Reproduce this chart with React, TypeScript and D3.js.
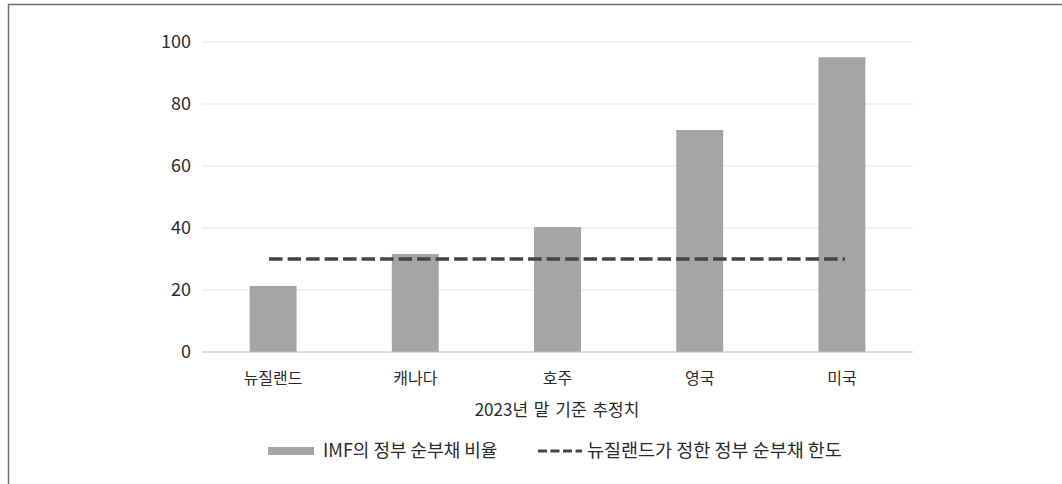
import React, { useEffect, useRef } from "react";
import * as d3 from "d3";

const categories = ["뉴질랜드", "캐나다", "호주", "영국", "미국"];
const debtRatio = [21.3, 31.6, 40.3, 71.6, 95.1];
const nzLimit = [30, 30, 30, 30, 30];
const yTicks = [0, 20, 40, 60, 80, 100];
const xTitle = "2023년 말 기준 추정치";
const barLabel = "IMF의 정부 순부채 비율";
const lineLabel = "뉴질랜드가 정한 정부 순부채 한도";

export default function App() {
  const ref = useRef<SVGSVGElement>(null);

  useEffect(() => {
    if (!ref.current) return;
    const svg = d3.select(ref.current);
    svg.selectAll("*").remove();
    const font = "'Noto Sans CJK KR', 'Noto Sans', sans-serif";

    // frame (only top and left edges visible)
    svg
      .append("rect")
      .attr("x", 8.5)
      .attr("y", 4.5)
      .attr("width", 1100)
      .attr("height", 520)
      .attr("fill", "white")
      .attr("stroke", "#6f6f6f")
      .attr("stroke-width", 1.5);

    const left = 202,
      right = 913,
      top = 42,
      bottom = 352;

    const x = d3.scaleBand().domain(categories).range([left, right]).paddingInner(0.67).paddingOuter(0.335);
    const y = d3.scaleLinear().domain([0, 100]).range([bottom, top]);

    // gridlines
    svg
      .append("g")
      .selectAll("line")
      .data(yTicks.filter((t) => t > 0))
      .enter()
      .append("line")
      .attr("x1", left)
      .attr("x2", right)
      .attr("y1", (d) => y(d))
      .attr("y2", (d) => y(d))
      .attr("stroke", "#e3e3e3")
      .attr("stroke-width", 1.2);

    // y tick labels
    svg
      .append("g")
      .selectAll("text")
      .data(yTicks)
      .enter()
      .append("text")
      .attr("x", 191)
      .attr("y", (d) => y(d))
      .attr("dy", "0.35em")
      .attr("text-anchor", "end")
      .attr("font-family", font)
      .attr("font-size", 18)
      .attr("fill", "#2b2b2b")
      .text((d) => d);

    // bars
    svg
      .append("g")
      .selectAll("rect")
      .data(debtRatio)
      .enter()
      .append("rect")
      .attr("x", (_, i) => x(categories[i])!)
      .attr("y", (d) => y(d))
      .attr("width", x.bandwidth())
      .attr("height", (d) => bottom - y(d))
      .attr("fill", "#a5a5a5");

    // x axis line
    svg
      .append("line")
      .attr("x1", left)
      .attr("x2", right)
      .attr("y1", bottom)
      .attr("y2", bottom)
      .attr("stroke", "#bdbdbd")
      .attr("stroke-width", 1.2);

    // limit line (from first to last category centre)
    const last = nzLimit.length - 1;
    const line = d3
      .line<number>()
      .x((_, i) => x(categories[i])! + x.bandwidth() / 2 + (i === 0 ? -4 : i === last ? 3 : 0))
      .y((d) => y(d));
    svg
      .append("path")
      .attr("d", line(nzLimit))
      .attr("fill", "none")
      .attr("stroke", "#444")
      .attr("stroke-width", 3.3)
      .attr("stroke-dasharray", "13.5,5");

    // x labels
    svg
      .append("g")
      .selectAll("text")
      .data(categories)
      .enter()
      .append("text")
      .attr("x", (d) => x(d)! + x.bandwidth() / 2)
      .attr("y", 378)
      .attr("dy", "0.35em")
      .attr("text-anchor", "middle")
      .attr("font-family", font)
      .attr("font-size", 16)
      .attr("fill", "#2b2b2b")
      .text((d) => d);

    svg
      .append("text")
      .attr("x", 557)
      .attr("y", 410)
      .attr("dy", "0.35em")
      .attr("text-anchor", "middle")
      .attr("font-family", font)
      .attr("font-size", 17)
      .attr("word-spacing", 2)
      .attr("fill", "#2b2b2b")
      .text(xTitle);

    // legend
    const lg = svg.append("g");
    lg.append("rect").attr("x", 268).attr("y", 447).attr("width", 46).attr("height", 8).attr("fill", "#a5a5a5");
    lg.append("text")
      .attr("x", 323)
      .attr("y", 451)
      .attr("dy", "0.35em")
      .attr("font-family", font)
      .attr("font-size", 18)
      .attr("fill", "#2b2b2b")
      .text(barLabel);
    lg.append("line")
      .attr("x1", 538)
      .attr("x2", 582)
      .attr("y1", 451)
      .attr("y2", 451)
      .attr("stroke", "#444")
      .attr("stroke-width", 3)
      .attr("stroke-dasharray", "9,3.5");
    lg.append("text")
      .attr("x", 587)
      .attr("y", 451)
      .attr("dy", "0.35em")
      .attr("font-family", font)
      .attr("font-size", 18.5)
      .attr("fill", "#2b2b2b")
      .text(lineLabel);
  }, []);

  return (
    <svg
      ref={ref}
      width={1062}
      height={484}
      style={{ position: "absolute", left: 0, top: 0, display: "block" }}
    />
  );
}
